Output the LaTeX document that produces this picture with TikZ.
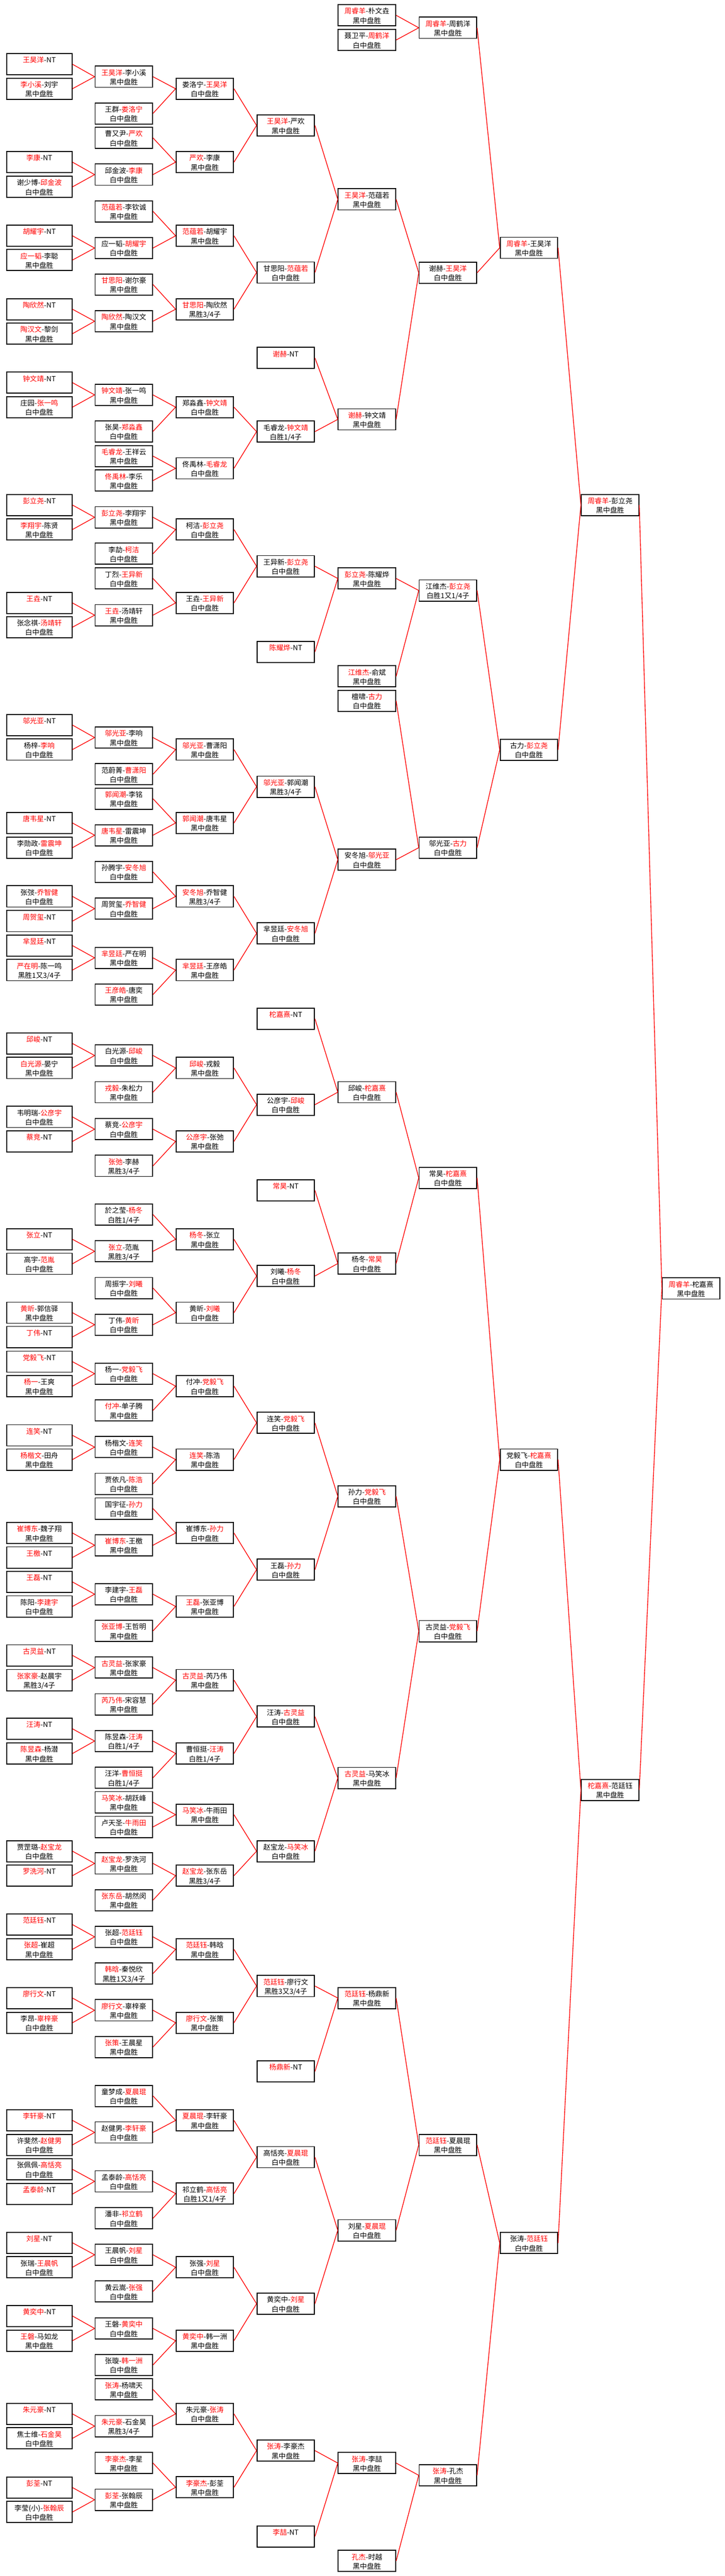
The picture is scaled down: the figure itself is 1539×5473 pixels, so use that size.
\documentclass[tikz,border=0pt]{standalone}
\usepackage{fontspec}
\setmainfont{Noto Sans CJK SC}
\definecolor{winred}{RGB}{255,0,0}
\newcommand{\rowstrut}{\rule[-1.5pt]{0pt}{10pt}}
\newcommand{\hei}[3]{\rowstrut\textcolor{winred}{#1}-#2\\\rowstrut#3}
\newcommand{\bai}[3]{\rowstrut#1-\textcolor{winred}{#2}\\\rowstrut#3}
\newcommand{\ntbox}[1]{\rowstrut\textcolor{winred}{#1}-NT\\\rowstrut}
\tikzset{
    game/.style={draw, line width=1pt, fill=white, minimum width=61pt, minimum height=22.5pt,
        inner sep=0pt, align=center, font=\fontsize{7.5pt}{10pt}\selectfont},
    prelim/.style={game, minimum width=69.5pt},
    link/.style={draw=winred, line width=0.75pt}
}
\begin{document}
\begin{tikzpicture}[x=0.5pt,y=-0.5pt]

    \path[use as bounding box, fill=white] (0,0) rectangle (1539,5473);

    \node[prelim] (a1) at (83.5,136.5) {\ntbox{王昊洋}};
    \node[prelim] (a2) at (83.5,188.5) {\hei{李小溪}{刘宇}{黑中盘胜}};
    \node[prelim] (a3) at (83.5,344.5) {\ntbox{李康}};
    \node[prelim] (a4) at (83.5,397) {\bai{谢少博}{邱金波}{白中盘胜}};
    \node[prelim] (a5) at (83.5,501) {\ntbox{胡耀宇}};
    \node[prelim] (a6) at (83.5,552.5) {\hei{应一韬}{李聪}{黑中盘胜}};
    \node[prelim] (a7) at (83.5,657) {\ntbox{陶欣然}};
    \node[prelim] (a8) at (83.5,709) {\hei{陶汉文}{黎剑}{黑中盘胜}};
    \node[prelim] (a9) at (83.5,813) {\ntbox{钟文靖}};
    \node[prelim] (a10) at (83.5,865) {\bai{庄园}{张一鸣}{白中盘胜}};
    \node[prelim] (a11) at (83.5,1073) {\ntbox{彭立尧}};
    \node[prelim] (a12) at (83.5,1125) {\hei{李翔宇}{陈贤}{黑中盘胜}};
    \node[prelim] (a13) at (83.5,1281) {\ntbox{王垚}};
    \node[prelim] (a14) at (83.5,1332.5) {\bai{张念祺}{汤靖轩}{白中盘胜}};
    \node[prelim] (a15) at (83.5,1540.5) {\ntbox{邬光亚}};
    \node[prelim] (a16) at (83.5,1592.5) {\bai{杨梓}{李响}{白中盘胜}};
    \node[prelim] (a17) at (83.5,1748.5) {\ntbox{唐韦星}};
    \node[prelim] (a18) at (83.5,1801) {\bai{李勋政}{雷震坤}{白中盘胜}};
    \node[prelim] (a19) at (83.5,1904.5) {\bai{张弢}{乔智健}{白中盘胜}};
    \node[prelim] (a20) at (83.5,1957) {\ntbox{周贺玺}};
    \node[prelim] (a21) at (83.5,2009) {\ntbox{芈昱廷}};
    \node[prelim] (a22) at (83.5,2061) {\hei{严在明}{陈一鸣}{黑胜1又3/4子}};
    \node[prelim] (a23) at (83.5,2217) {\ntbox{邱峻}};
    \node[prelim] (a24) at (83.5,2269) {\hei{白光源}{晏宁}{黑中盘胜}};
    \node[prelim] (a25) at (83.5,2373) {\bai{韦明瑞}{公彦宇}{白中盘胜}};
    \node[prelim] (a26) at (83.5,2425) {\ntbox{蔡竞}};
    \node[prelim] (a27) at (83.5,2633) {\ntbox{张立}};
    \node[prelim] (a28) at (83.5,2685) {\bai{高宇}{范胤}{白中盘胜}};
    \node[prelim] (a29) at (83.5,2789) {\hei{黄昕}{郭信驿}{黑中盘胜}};
    \node[prelim] (a30) at (83.5,2840.5) {\ntbox{丁伟}};
    \node[prelim] (a31) at (83.5,2893) {\ntbox{党毅飞}};
    \node[prelim] (a32) at (83.5,2945) {\hei{杨一}{王爽}{黑中盘胜}};
    \node[prelim] (a33) at (83.5,3049.5) {\ntbox{连笑}};
    \node[prelim] (a34) at (83.5,3101) {\hei{杨楷文}{田舟}{黑中盘胜}};
    \node[prelim] (a35) at (83.5,3257) {\hei{崔博东}{魏子翔}{黑中盘胜}};
    \node[prelim] (a36) at (83.5,3309) {\ntbox{王檄}};
    \node[prelim] (a37) at (83.5,3361) {\ntbox{王磊}};
    \node[prelim] (a38) at (83.5,3413) {\bai{陈阳}{李建宇}{白中盘胜}};
    \node[prelim] (a39) at (83.5,3517) {\ntbox{古灵益}};
    \node[prelim] (a40) at (83.5,3569.5) {\hei{张家豪}{赵晨宇}{黑胜3/4子}};
    \node[prelim] (a41) at (83.5,3673) {\ntbox{汪涛}};
    \node[prelim] (a42) at (83.5,3725.5) {\hei{陈昱森}{杨潜}{黑中盘胜}};
    \node[prelim] (a43) at (83.5,3933) {\bai{贾罡璐}{赵宝龙}{白中盘胜}};
    \node[prelim] (a44) at (83.5,3985) {\ntbox{罗洗河}};
    \node[prelim] (a45) at (83.5,4089) {\ntbox{范廷钰}};
    \node[prelim] (a46) at (83.5,4141.5) {\hei{张超}{崔超}{黑中盘胜}};
    \node[prelim] (a47) at (83.5,4245) {\ntbox{廖行文}};
    \node[prelim] (a48) at (83.5,4297.5) {\bai{李昂}{辜梓豪}{白中盘胜}};
    \node[prelim] (a49) at (83.5,4505) {\ntbox{李轩豪}};
    \node[prelim] (a50) at (83.5,4557) {\bai{许斐然}{赵健男}{白中盘胜}};
    \node[prelim] (a51) at (83.5,4609) {\bai{张佩佩}{高恬亮}{白中盘胜}};
    \node[prelim] (a52) at (83.5,4661.5) {\ntbox{孟泰龄}};
    \node[prelim] (a53) at (83.5,4765) {\ntbox{刘星}};
    \node[prelim] (a54) at (83.5,4817) {\bai{张瑞}{王晨帆}{白中盘胜}};
    \node[prelim] (a55) at (83.5,4920.5) {\ntbox{黄奕中}};
    \node[prelim] (a56) at (83.5,4973) {\hei{王磐}{马如龙}{黑中盘胜}};
    \node[prelim] (a57) at (83.5,5128.5) {\ntbox{朱元豪}};
    \node[prelim] (a58) at (83.5,5180.5) {\bai{焦士维}{石金昊}{白中盘胜}};
    \node[prelim] (a59) at (83.5,5285) {\ntbox{彭荃}};
    \node[prelim] (a60) at (83.5,5337) {\bai{李莹(小)}{张翰辰}{白中盘胜}};

    \node[game] (b1) at (263,163) {\hei{王昊洋}{李小溪}{黑中盘胜}};
    \node[game] (b2) at (263,241) {\bai{王群}{娄洛宁}{白中盘胜}};
    \node[game] (b3) at (263,293) {\bai{曹又尹}{严欢}{白中盘胜}};
    \node[game] (b4) at (263,371) {\bai{邱金波}{李康}{白中盘胜}};
    \node[game] (b5) at (263,449) {\hei{范蕴若}{李钦诚}{黑中盘胜}};
    \node[game] (b6) at (263,527) {\bai{应一韬}{胡耀宇}{白中盘胜}};
    \node[game] (b7) at (263,604.5) {\hei{甘思阳}{谢尔豪}{黑中盘胜}};
    \node[game] (b8) at (263,682.5) {\hei{陶欣然}{陶汉文}{黑中盘胜}};
    \node[game] (b9) at (263,839) {\hei{钟文靖}{张一鸣}{黑中盘胜}};
    \node[game] (b10) at (263,916.5) {\bai{张昊}{郑淼鑫}{白中盘胜}};
    \node[game] (b11) at (263,969) {\hei{毛睿龙}{王祥云}{黑中盘胜}};
    \node[game] (b12) at (263,1021) {\hei{佟禹林}{李乐}{黑中盘胜}};
    \node[game] (b13) at (263,1099) {\hei{彭立尧}{李翔宇}{黑中盘胜}};
    \node[game] (b14) at (263,1176.5) {\bai{李劼}{柯洁}{白中盘胜}};
    \node[game] (b15) at (263,1229) {\bai{丁烈}{王异新}{白中盘胜}};
    \node[game] (b16) at (263,1307) {\hei{王垚}{汤靖轩}{黑中盘胜}};
    \node[game] (b17) at (263,1567) {\hei{邬光亚}{李响}{黑中盘胜}};
    \node[game] (b18) at (263,1645) {\bai{范蔚菁}{曹潇阳}{白中盘胜}};
    \node[game] (b19) at (263,1697) {\hei{郭闻潮}{李铭}{黑中盘胜}};
    \node[game] (b20) at (263,1774.5) {\hei{唐韦星}{雷震坤}{黑中盘胜}};
    \node[game] (b21) at (263,1852.5) {\bai{孙腾宇}{安冬旭}{白中盘胜}};
    \node[game] (b22) at (263,1930.5) {\bai{周贺玺}{乔智健}{白中盘胜}};
    \node[game] (b23) at (263,2035) {\hei{芈昱廷}{严在明}{黑中盘胜}};
    \node[game] (b24) at (263,2113) {\hei{王彦皓}{唐奕}{黑中盘胜}};
    \node[game] (b25) at (263,2242.5) {\bai{白光源}{邱峻}{白中盘胜}};
    \node[game] (b26) at (263,2320.5) {\hei{戎毅}{朱松力}{黑中盘胜}};
    \node[game] (b27) at (263,2399) {\bai{蔡竞}{公彦宇}{白中盘胜}};
    \node[game] (b28) at (263,2477) {\hei{张弛}{李赫}{黑胜3/4子}};
    \node[game] (b29) at (263,2580.5) {\bai{於之莹}{杨冬}{白胜1/4子}};
    \node[game] (b30) at (263,2658.5) {\hei{张立}{范胤}{黑胜3/4子}};
    \node[game] (b31) at (263,2736.5) {\bai{周振宇}{刘曦}{白中盘胜}};
    \node[game] (b32) at (263,2814.5) {\bai{丁伟}{黄昕}{白中盘胜}};
    \node[game] (b33) at (263,2918.5) {\bai{杨一}{党毅飞}{白中盘胜}};
    \node[game] (b34) at (263,2996.5) {\hei{付冲}{单子腾}{黑中盘胜}};
    \node[game] (b35) at (263,3074.5) {\bai{杨楷文}{连笑}{白中盘胜}};
    \node[game] (b36) at (263,3152.5) {\bai{贾依凡}{陈浩}{白中盘胜}};
    \node[game] (b37) at (263,3205) {\bai{国宇征}{孙力}{白中盘胜}};
    \node[game] (b38) at (263,3283) {\hei{崔博东}{王檄}{黑中盘胜}};
    \node[game] (b39) at (263,3387) {\bai{李建宇}{王磊}{白中盘胜}};
    \node[game] (b40) at (263,3465) {\hei{张亚博}{王哲明}{黑中盘胜}};
    \node[game] (b41) at (263,3543) {\hei{古灵益}{张家豪}{黑中盘胜}};
    \node[game] (b42) at (263,3621) {\hei{芮乃伟}{宋容慧}{黑中盘胜}};
    \node[game] (b43) at (263,3699) {\bai{陈昱森}{汪涛}{白胜1/4子}};
    \node[game] (b44) at (263,3777) {\bai{汪洋}{曹恒挺}{白胜1/4子}};
    \node[game] (b45) at (263,3829) {\hei{马笑冰}{胡跃峰}{黑中盘胜}};
    \node[game] (b46) at (263,3881.5) {\bai{卢天圣}{牛雨田}{白中盘胜}};
    \node[game] (b47) at (263,3959) {\hei{赵宝龙}{罗洗河}{黑中盘胜}};
    \node[game] (b48) at (263,4037) {\hei{张东岳}{胡然闵}{黑中盘胜}};
    \node[game] (b49) at (263,4115) {\bai{张超}{范廷钰}{白中盘胜}};
    \node[game] (b50) at (263,4193) {\hei{韩晗}{秦悦欣}{黑胜1又3/4子}};
    \node[game] (b51) at (263,4271) {\hei{廖行文}{辜梓豪}{黑中盘胜}};
    \node[game] (b52) at (263,4349) {\hei{张策}{王晨星}{黑中盘胜}};
    \node[game] (b53) at (263,4453) {\bai{童梦成}{夏晨琨}{白中盘胜}};
    \node[game] (b54) at (263,4530.5) {\bai{赵健男}{李轩豪}{白中盘胜}};
    \node[game] (b55) at (263,4634.5) {\bai{孟泰龄}{高恬亮}{白中盘胜}};
    \node[game] (b56) at (263,4713) {\bai{潘非}{祁立鹤}{白中盘胜}};
    \node[game] (b57) at (263,4790.5) {\bai{王晨帆}{刘星}{白中盘胜}};
    \node[game] (b58) at (263,4868.5) {\bai{黄云嵩}{张强}{白中盘胜}};
    \node[game] (b59) at (263,4947) {\bai{王磐}{黄奕中}{白中盘胜}};
    \node[game] (b60) at (263,5024.5) {\bai{张璇}{韩一洲}{白中盘胜}};
    \node[game] (b61) at (263,5076.5) {\hei{张涛}{杨啸天}{黑中盘胜}};
    \node[game] (b62) at (263,5154.5) {\hei{朱元豪}{石金昊}{黑胜3/4子}};
    \node[game] (b63) at (263,5233) {\hei{李豪杰}{李星}{黑中盘胜}};
    \node[game] (b64) at (263,5311) {\hei{彭荃}{张翰辰}{黑中盘胜}};

    \node[game] (c1) at (435,188.5) {\bai{娄洛宁}{王昊洋}{白中盘胜}};
    \node[game] (c2) at (435,344.5) {\hei{严欢}{李康}{黑中盘胜}};
    \node[game] (c3) at (435,501) {\hei{范蕴若}{胡耀宇}{黑中盘胜}};
    \node[game] (c4) at (435,657) {\hei{甘思阳}{陶欣然}{黑胜3/4子}};
    \node[game] (c5) at (435,865) {\bai{郑淼鑫}{钟文靖}{白中盘胜}};
    \node[game] (c6) at (435,995) {\bai{佟禹林}{毛睿龙}{白中盘胜}};
    \node[game] (c7) at (435,1125) {\bai{柯洁}{彭立尧}{白中盘胜}};
    \node[game] (c8) at (435,1281) {\bai{王垚}{王异新}{白中盘胜}};
    \node[game] (c9) at (435,1592.5) {\hei{邬光亚}{曹潇阳}{黑中盘胜}};
    \node[game] (c10) at (435,1748.5) {\hei{郭闻潮}{唐韦星}{黑中盘胜}};
    \node[game] (c11) at (435,1904.5) {\hei{安冬旭}{乔智健}{黑胜3/4子}};
    \node[game] (c12) at (435,2061) {\hei{芈昱廷}{王彦皓}{黑中盘胜}};
    \node[game] (c13) at (435,2269) {\hei{邱峻}{戎毅}{黑中盘胜}};
    \node[game] (c14) at (435,2425) {\hei{公彦宇}{张弛}{黑中盘胜}};
    \node[game] (c15) at (435,2633) {\hei{杨冬}{张立}{黑中盘胜}};
    \node[game] (c16) at (435,2789) {\bai{黄昕}{刘曦}{白中盘胜}};
    \node[game] (c17) at (435,2945) {\bai{付冲}{党毅飞}{白中盘胜}};
    \node[game] (c18) at (435,3101) {\hei{连笑}{陈浩}{黑中盘胜}};
    \node[game] (c19) at (435,3257) {\bai{崔博东}{孙力}{白中盘胜}};
    \node[game] (c20) at (435,3413) {\hei{王磊}{张亚博}{黑中盘胜}};
    \node[game] (c21) at (435,3569.5) {\hei{古灵益}{芮乃伟}{黑中盘胜}};
    \node[game] (c22) at (435,3725.5) {\bai{曹恒挺}{汪涛}{白胜1/4子}};
    \node[game] (c23) at (435,3855.5) {\hei{马笑冰}{牛雨田}{黑中盘胜}};
    \node[game] (c24) at (435,3985) {\hei{赵宝龙}{张东岳}{黑胜3/4子}};
    \node[game] (c25) at (435,4141.5) {\hei{范廷钰}{韩晗}{黑中盘胜}};
    \node[game] (c26) at (435,4297.5) {\hei{廖行文}{张策}{黑中盘胜}};
    \node[game] (c27) at (435,4505) {\hei{夏晨琨}{李轩豪}{黑中盘胜}};
    \node[game] (c28) at (435,4660.5) {\bai{祁立鹤}{高恬亮}{白胜1又1/4子}};
    \node[game] (c29) at (435,4817) {\bai{张强}{刘星}{白中盘胜}};
    \node[game] (c30) at (435,4973) {\hei{黄奕中}{韩一洲}{黑中盘胜}};
    \node[game] (c31) at (435,5128.5) {\bai{朱元豪}{张涛}{白中盘胜}};
    \node[game] (c32) at (435,5284.5) {\hei{李豪杰}{彭荃}{黑中盘胜}};

    \node[game] (d1) at (607,266.5) {\hei{王昊洋}{严欢}{黑中盘胜}};
    \node[game] (d2) at (607,579) {\bai{甘思阳}{范蕴若}{白中盘胜}};
    \node[game] (d3) at (607,760.5) {\ntbox{谢赫}};
    \node[game] (d4) at (607,917) {\bai{毛睿龙}{钟文靖}{白胜1/4子}};
    \node[game] (d5) at (607,1203) {\bai{王异新}{彭立尧}{白中盘胜}};
    \node[game] (d6) at (607,1385) {\ntbox{陈耀烨}};
    \node[game] (d7) at (607,1671.5) {\hei{邬光亚}{郭闻潮}{黑胜3/4子}};
    \node[game] (d8) at (607,1983) {\bai{芈昱廷}{安冬旭}{白中盘胜}};
    \node[game] (d9) at (607,2164.5) {\ntbox{柁嘉熹}};
    \node[game] (d10) at (607,2347) {\bai{公彦宇}{邱峻}{白中盘胜}};
    \node[game] (d11) at (607,2529) {\ntbox{常昊}};
    \node[game] (d12) at (607,2711) {\bai{刘曦}{杨冬}{白中盘胜}};
    \node[game] (d13) at (607,3023) {\bai{连笑}{党毅飞}{白中盘胜}};
    \node[game] (d14) at (607,3335) {\bai{王磊}{孙力}{白中盘胜}};
    \node[game] (d15) at (607,3647) {\bai{汪涛}{古灵益}{白中盘胜}};
    \node[game] (d16) at (607,3933) {\bai{赵宝龙}{马笑冰}{白中盘胜}};
    \node[game] (d17) at (607,4219.5) {\hei{范廷钰}{廖行文}{黑胜3又3/4子}};
    \node[game] (d18) at (607,4401) {\ntbox{杨鼎新}};
    \node[game] (d19) at (607,4583) {\bai{高恬亮}{夏晨琨}{白中盘胜}};
    \node[game] (d20) at (607,4894.5) {\bai{黄奕中}{刘星}{白中盘胜}};
    \node[game] (d21) at (607,5206.5) {\hei{张涛}{李豪杰}{黑中盘胜}};
    \node[game] (d22) at (607,5389) {\ntbox{李喆}};

    \node[game] (e1) at (779.5,32.5) {\hei{周睿羊}{朴文垚}{黑中盘胜}};
    \node[game] (e2) at (779.5,85) {\bai{聂卫平}{周鹤洋}{白中盘胜}};
    \node[game] (e3) at (779.5,423.5) {\hei{王昊洋}{范蕴若}{黑中盘胜}};
    \node[game] (e4) at (779.5,891) {\hei{谢赫}{钟文靖}{黑中盘胜}};
    \node[game] (e5) at (779.5,1229) {\hei{彭立尧}{陈耀烨}{黑中盘胜}};
    \node[game] (e6) at (779.5,1437) {\hei{江维杰}{俞斌}{黑中盘胜}};
    \node[game] (e7) at (779.5,1489) {\bai{檀啸}{古力}{白中盘胜}};
    \node[game] (e8) at (779.5,1826.5) {\bai{安冬旭}{邬光亚}{白中盘胜}};
    \node[game] (e9) at (779.5,2320.5) {\bai{邱峻}{柁嘉熹}{白中盘胜}};
    \node[game] (e10) at (779.5,2684.5) {\bai{杨冬}{常昊}{白中盘胜}};
    \node[game] (e11) at (779.5,3179) {\bai{孙力}{党毅飞}{白中盘胜}};
    \node[game] (e12) at (779.5,3777.5) {\hei{古灵益}{马笑冰}{黑中盘胜}};
    \node[game] (e13) at (779.5,4245) {\hei{范廷钰}{杨鼎新}{黑中盘胜}};
    \node[game] (e14) at (779.5,4738.5) {\bai{刘星}{夏晨琨}{白中盘胜}};
    \node[game] (e15) at (779.5,5233) {\hei{张涛}{李喆}{黑中盘胜}};
    \node[game] (e16) at (779.5,5441) {\hei{孔杰}{时越}{黑中盘胜}};

    \node[game] (f1) at (951.5,59) {\hei{周睿羊}{周鹤洋}{黑中盘胜}};
    \node[game] (f2) at (951.5,579.5) {\bai{谢赫}{王昊洋}{白中盘胜}};
    \node[game] (f3) at (951.5,1254.5) {\bai{江维杰}{彭立尧}{白胜1又1/4子}};
    \node[game] (f4) at (951.5,1801) {\bai{邬光亚}{古力}{白中盘胜}};
    \node[game] (f5) at (951.5,2502.5) {\bai{常昊}{柁嘉熹}{白中盘胜}};
    \node[game] (f6) at (951.5,3465.5) {\bai{古灵益}{党毅飞}{白中盘胜}};
    \node[game] (f7) at (951.5,4557) {\hei{范廷钰}{夏晨琨}{黑中盘胜}};
    \node[game] (f8) at (951.5,5259) {\hei{张涛}{孔杰}{黑中盘胜}};

    \node[game] (g1) at (1123.5,526.5) {\hei{周睿羊}{王昊洋}{黑中盘胜}};
    \node[game] (g2) at (1123.5,1593) {\bai{古力}{彭立尧}{白中盘胜}};
    \node[game] (g3) at (1123.5,3101) {\bai{党毅飞}{柁嘉熹}{白中盘胜}};
    \node[game] (g4) at (1123.5,4765.5) {\bai{张涛}{范廷钰}{白中盘胜}};

    \node[game] (h1) at (1296,1073) {\hei{周睿羊}{彭立尧}{黑中盘胜}};
    \node[game] (h2) at (1296,3803) {\hei{柁嘉熹}{范廷钰}{黑中盘胜}};

    \node[game] (final) at (1468,2737.5) {\hei{周睿羊}{柁嘉熹}{黑中盘胜}};

    \draw[link] (a1.east) -- (b1.west) (a2.east) -- (b1.west);
    \draw[link] (a3.east) -- (b4.west) (a4.east) -- (b4.west);
    \draw[link] (a5.east) -- (b6.west) (a6.east) -- (b6.west);
    \draw[link] (a7.east) -- (b8.west) (a8.east) -- (b8.west);
    \draw[link] (a9.east) -- (b9.west) (a10.east) -- (b9.west);
    \draw[link] (a11.east) -- (b13.west) (a12.east) -- (b13.west);
    \draw[link] (a13.east) -- (b16.west) (a14.east) -- (b16.west);
    \draw[link] (a15.east) -- (b17.west) (a16.east) -- (b17.west);
    \draw[link] (a17.east) -- (b20.west) (a18.east) -- (b20.west);
    \draw[link] (a19.east) -- (b22.west) (a20.east) -- (b22.west);
    \draw[link] (a21.east) -- (b23.west) (a22.east) -- (b23.west);
    \draw[link] (a23.east) -- (b25.west) (a24.east) -- (b25.west);
    \draw[link] (a25.east) -- (b27.west) (a26.east) -- (b27.west);
    \draw[link] (a27.east) -- (b30.west) (a28.east) -- (b30.west);
    \draw[link] (a29.east) -- (b32.west) (a30.east) -- (b32.west);
    \draw[link] (a31.east) -- (b33.west) (a32.east) -- (b33.west);
    \draw[link] (a33.east) -- (b35.west) (a34.east) -- (b35.west);
    \draw[link] (a35.east) -- (b38.west) (a36.east) -- (b38.west);
    \draw[link] (a37.east) -- (b39.west) (a38.east) -- (b39.west);
    \draw[link] (a39.east) -- (b41.west) (a40.east) -- (b41.west);
    \draw[link] (a41.east) -- (b43.west) (a42.east) -- (b43.west);
    \draw[link] (a43.east) -- (b47.west) (a44.east) -- (b47.west);
    \draw[link] (a45.east) -- (b49.west) (a46.east) -- (b49.west);
    \draw[link] (a47.east) -- (b51.west) (a48.east) -- (b51.west);
    \draw[link] (a49.east) -- (b54.west) (a50.east) -- (b54.west);
    \draw[link] (a51.east) -- (b55.west) (a52.east) -- (b55.west);
    \draw[link] (a53.east) -- (b57.west) (a54.east) -- (b57.west);
    \draw[link] (a55.east) -- (b59.west) (a56.east) -- (b59.west);
    \draw[link] (a57.east) -- (b62.west) (a58.east) -- (b62.west);
    \draw[link] (a59.east) -- (b64.west) (a60.east) -- (b64.west);

    \draw[link] (b1.east) -- (c1.west) (b2.east) -- (c1.west);
    \draw[link] (b3.east) -- (c2.west) (b4.east) -- (c2.west);
    \draw[link] (b5.east) -- (c3.west) (b6.east) -- (c3.west);
    \draw[link] (b7.east) -- (c4.west) (b8.east) -- (c4.west);
    \draw[link] (b9.east) -- (c5.west) (b10.east) -- (c5.west);
    \draw[link] (b11.east) -- (c6.west) (b12.east) -- (c6.west);
    \draw[link] (b13.east) -- (c7.west) (b14.east) -- (c7.west);
    \draw[link] (b15.east) -- (c8.west) (b16.east) -- (c8.west);
    \draw[link] (b17.east) -- (c9.west) (b18.east) -- (c9.west);
    \draw[link] (b19.east) -- (c10.west) (b20.east) -- (c10.west);
    \draw[link] (b21.east) -- (c11.west) (b22.east) -- (c11.west);
    \draw[link] (b23.east) -- (c12.west) (b24.east) -- (c12.west);
    \draw[link] (b25.east) -- (c13.west) (b26.east) -- (c13.west);
    \draw[link] (b27.east) -- (c14.west) (b28.east) -- (c14.west);
    \draw[link] (b29.east) -- (c15.west) (b30.east) -- (c15.west);
    \draw[link] (b31.east) -- (c16.west) (b32.east) -- (c16.west);
    \draw[link] (b33.east) -- (c17.west) (b34.east) -- (c17.west);
    \draw[link] (b35.east) -- (c18.west) (b36.east) -- (c18.west);
    \draw[link] (b37.east) -- (c19.west) (b38.east) -- (c19.west);
    \draw[link] (b39.east) -- (c20.west) (b40.east) -- (c20.west);
    \draw[link] (b41.east) -- (c21.west) (b42.east) -- (c21.west);
    \draw[link] (b43.east) -- (c22.west) (b44.east) -- (c22.west);
    \draw[link] (b45.east) -- (c23.west) (b46.east) -- (c23.west);
    \draw[link] (b47.east) -- (c24.west) (b48.east) -- (c24.west);
    \draw[link] (b49.east) -- (c25.west) (b50.east) -- (c25.west);
    \draw[link] (b51.east) -- (c26.west) (b52.east) -- (c26.west);
    \draw[link] (b53.east) -- (c27.west) (b54.east) -- (c27.west);
    \draw[link] (b55.east) -- (c28.west) (b56.east) -- (c28.west);
    \draw[link] (b57.east) -- (c29.west) (b58.east) -- (c29.west);
    \draw[link] (b59.east) -- (c30.west) (b60.east) -- (c30.west);
    \draw[link] (b61.east) -- (c31.west) (b62.east) -- (c31.west);
    \draw[link] (b63.east) -- (c32.west) (b64.east) -- (c32.west);

    \draw[link] (c1.east) -- (d1.west) (c2.east) -- (d1.west);
    \draw[link] (c3.east) -- (d2.west) (c4.east) -- (d2.west);
    \draw[link] (c5.east) -- (d4.west) (c6.east) -- (d4.west);
    \draw[link] (c7.east) -- (d5.west) (c8.east) -- (d5.west);
    \draw[link] (c9.east) -- (d7.west) (c10.east) -- (d7.west);
    \draw[link] (c11.east) -- (d8.west) (c12.east) -- (d8.west);
    \draw[link] (c13.east) -- (d10.west) (c14.east) -- (d10.west);
    \draw[link] (c15.east) -- (d12.west) (c16.east) -- (d12.west);
    \draw[link] (c17.east) -- (d13.west) (c18.east) -- (d13.west);
    \draw[link] (c19.east) -- (d14.west) (c20.east) -- (d14.west);
    \draw[link] (c21.east) -- (d15.west) (c22.east) -- (d15.west);
    \draw[link] (c23.east) -- (d16.west) (c24.east) -- (d16.west);
    \draw[link] (c25.east) -- (d17.west) (c26.east) -- (d17.west);
    \draw[link] (c27.east) -- (d19.west) (c28.east) -- (d19.west);
    \draw[link] (c29.east) -- (d20.west) (c30.east) -- (d20.west);
    \draw[link] (c31.east) -- (d21.west) (c32.east) -- (d21.west);

    \draw[link] (d1.east) -- (e3.west) (d2.east) -- (e3.west);
    \draw[link] (d3.east) -- (e4.west) (d4.east) -- (e4.west);
    \draw[link] (d5.east) -- (e5.west) (d6.east) -- (e5.west);
    \draw[link] (d7.east) -- (e8.west) (d8.east) -- (e8.west);
    \draw[link] (d9.east) -- (e9.west) (d10.east) -- (e9.west);
    \draw[link] (d11.east) -- (e10.west) (d12.east) -- (e10.west);
    \draw[link] (d13.east) -- (e11.west) (d14.east) -- (e11.west);
    \draw[link] (d15.east) -- (e12.west) (d16.east) -- (e12.west);
    \draw[link] (d17.east) -- (e13.west) (d18.east) -- (e13.west);
    \draw[link] (d19.east) -- (e14.west) (d20.east) -- (e14.west);
    \draw[link] (d21.east) -- (e15.west) (d22.east) -- (e15.west);

    \draw[link] (e1.east) -- (f1.west) (e2.east) -- (f1.west);
    \draw[link] (e3.east) -- (f2.west) (e4.east) -- (f2.west);
    \draw[link] (e5.east) -- (f3.west) (e6.east) -- (f3.west);
    \draw[link] (e7.east) -- (f4.west) (e8.east) -- (f4.west);
    \draw[link] (e9.east) -- (f5.west) (e10.east) -- (f5.west);
    \draw[link] (e11.east) -- (f6.west) (e12.east) -- (f6.west);
    \draw[link] (e13.east) -- (f7.west) (e14.east) -- (f7.west);
    \draw[link] (e15.east) -- (f8.west) (e16.east) -- (f8.west);

    \draw[link] (f1.east) -- (g1.west) (f2.east) -- (g1.west);
    \draw[link] (f3.east) -- (g2.west) (f4.east) -- (g2.west);
    \draw[link] (f5.east) -- (g3.west) (f6.east) -- (g3.west);
    \draw[link] (f7.east) -- (g4.west) (f8.east) -- (g4.west);

    \draw[link] (g1.east) -- (h1.west) (g2.east) -- (h1.west);
    \draw[link] (g3.east) -- (h2.west) (g4.east) -- (h2.west);

    \draw[link] (h1.east) -- (final.west) (h2.east) -- (final.west);

\end{tikzpicture}
\end{document}
